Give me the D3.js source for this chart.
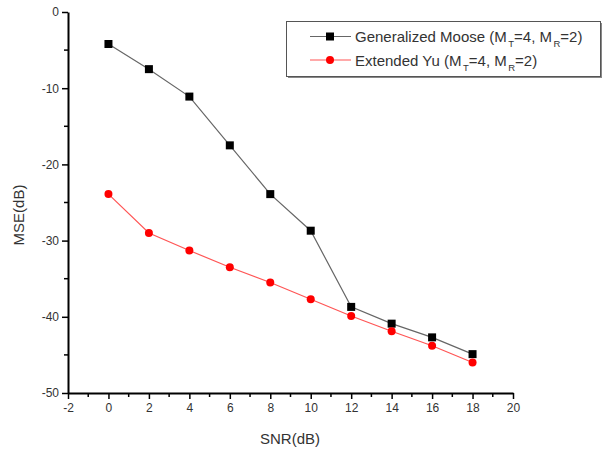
<!DOCTYPE html>
<html><head><meta charset="utf-8">
<script src="https://cdn.jsdelivr.net/npm/d3@7"></script>
<style>body{margin:0;background:#fff}svg{display:block}text{font-family:"Liberation Sans",Arial,sans-serif}</style>
</head><body><svg id="c" width="603" height="457"></svg>
<script>
const snr = [0, 2, 4, 6, 8, 10, 12, 14, 16, 18];
const moose = [-4.2, -7.5, -11.1, -17.5, -23.9, -28.7, -38.7, -40.9, -42.7, -44.9];
const yu = [-23.9, -29.0, -31.3, -33.5, -35.5, -37.7, -39.9, -41.9, -43.8, -46.0];
const xTicks = [-2, 0, 2, 4, 6, 8, 10, 12, 14, 16, 18, 20];
const yTicks = [0, -10, -20, -30, -40, -50];

const svg = d3.select("#c");
const x = d3.scaleLinear().domain([-2, 20]).range([68, 513]);
const y = d3.scaleLinear().domain([0, -50]).range([12, 393]);

// minor ticks
const xMinor = d3.range(-2, 20.01, 1).filter(v => v % 2 !== 0);
const yMinor = d3.range(-45, 0, 10);
svg.append("g").selectAll("line").data(xMinor).join("line")
  .attr("x1", d => x(d)).attr("x2", d => x(d)).attr("y1", 393).attr("y2", 397)
  .attr("stroke", "#000").attr("stroke-width", 1.5);
svg.append("g").selectAll("line").data(yMinor).join("line")
  .attr("y1", d => y(d)).attr("y2", d => y(d)).attr("x1", 68).attr("x2", 64)
  .attr("stroke", "#000").attr("stroke-width", 1.5);

const fmt = d => String(d);
const xAxis = svg.append("g").attr("transform", "translate(0,393)")
  .call(d3.axisBottom(x).tickValues(xTicks).tickFormat(fmt).tickSize(6).tickSizeOuter(0).tickPadding(4));
const yAxis = svg.append("g").attr("transform", "translate(68,0)")
  .call(d3.axisLeft(y).tickValues(yTicks).tickFormat(fmt).tickSize(6).tickSizeOuter(0).tickPadding(3));
[xAxis, yAxis].forEach(g => {
  g.select(".domain").attr("stroke", "#000").attr("stroke-width", 2);
  g.selectAll(".tick line").attr("stroke", "#000").attr("stroke-width", 1.5);
  g.selectAll(".tick text").attr("font-size", 12).attr("fill", "#333")
   .attr("font-family", "Liberation Sans, Arial, sans-serif");
});

// axis labels
svg.append("text").attr("x", 290).attr("y", 444).attr("text-anchor", "middle")
  .attr("font-size", 15).attr("fill", "#333").text("SNR(dB)");
svg.append("text").attr("transform", "translate(24,215) rotate(-90)").attr("text-anchor", "middle")
  .attr("font-size", 15).attr("fill", "#333").text("MSE(dB)");

const line = d3.line().x((d, i) => x(snr[i])).y(d => y(d));
svg.append("path").datum(moose).attr("d", line).attr("fill", "none").attr("stroke", "#666").attr("stroke-width", 1.2);
svg.append("path").datum(yu).attr("d", line).attr("fill", "none").attr("stroke", "#f55").attr("stroke-width", 1.2);

svg.append("g").selectAll("rect").data(moose).join("rect")
  .attr("x", (d, i) => x(snr[i]) - 4).attr("y", d => y(d) - 4).attr("width", 8).attr("height", 8).attr("fill", "#000");
svg.append("g").selectAll("circle").data(yu).join("circle")
  .attr("cx", (d, i) => x(snr[i])).attr("cy", d => y(d)).attr("r", 4).attr("fill", "#f00");

// legend
const lg = svg.append("g");
lg.append("rect").attr("x", 288).attr("y", 23).attr("width", 314).attr("height", 55).attr("fill", "#888");
lg.append("rect").attr("x", 286.5).attr("y", 21.5).attr("width", 314).attr("height", 55).attr("fill", "#fff").attr("stroke", "#555").attr("stroke-width", 1);
const legendItems = [
  {name: "Generalized Moose (M", color: "#666", mark: "square", cy: 36.5},
  {name: "Extended Yu (M", color: "#f55", mark: "circle", cy: 60}
];
legendItems.forEach(it => {
  lg.append("line").attr("x1", 310).attr("x2", 351).attr("y1", it.cy).attr("y2", it.cy).attr("stroke", it.color).attr("stroke-width", 1.2);
  if (it.mark === "square") lg.append("rect").attr("x", 326).attr("y", it.cy - 4).attr("width", 8).attr("height", 8).attr("fill", "#000");
  else lg.append("circle").attr("cx", 330).attr("cy", it.cy).attr("r", 4).attr("fill", "#f00");
  const t = lg.append("text").attr("x", 355).attr("y", it.cy + 5.5).attr("font-size", 15).attr("fill", "#333");
  t.append("tspan").text(it.name);
  t.append("tspan").attr("dx", 1.5).attr("dy", 5).attr("font-size", 9.5).text("T");
  t.append("tspan").attr("dy", -5).text("=4, M");
  t.append("tspan").attr("dx", 1.5).attr("dy", 5).attr("font-size", 9.5).text("R");
  t.append("tspan").attr("dy", -5).text("=2)");
});
</script></body></html>
